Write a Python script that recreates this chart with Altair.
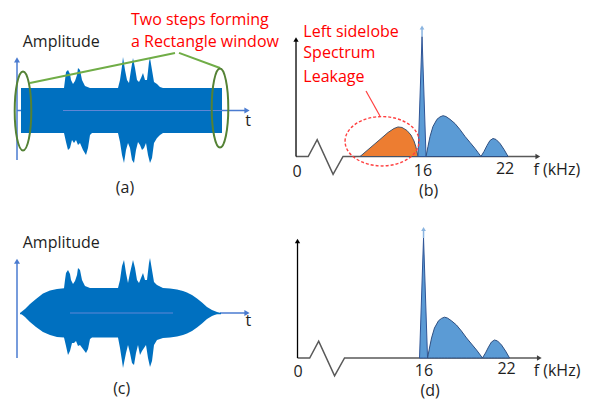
import altair as alt
import pandas as pd

FONT = "Open Sans"
RED = "#ff0000"
INK = "#1e1e1e"
SIG = "#0070c0"
AXBLUE = "#4a7bd0"

# ---------------- (a) signal with rectangular window (time, amplitude envelope) ----------------
a_up_t = [0, 43, 44, 45, 47, 49, 50, 52, 54, 56, 57, 59, 61, 64, 69, 97, 99, 101, 102, 104, 106, 108,
          110, 112, 114, 116, 118, 120, 122, 124, 126, 128, 129, 131, 133, 136, 139, 142, 201]
a_up_amp = [1.0, 1.0, 1.36, 1.71, 1.8, 1.62, 1.36, 1.18, 1.31, 1.58, 1.89, 1.8, 1.36, 1.09, 1.0, 1.0,
            1.36, 1.98, 2.38, 1.8, 1.36, 1.22, 1.8, 2.33, 1.89, 1.36, 1.27, 1.44, 1.67, 1.36, 1.36, 2.16,
            2.33, 1.8, 1.27, 1.18, 1.04, 1.0, 1.0]
a_lo_t = [0, 43, 45, 47, 49, 51, 53, 55, 57, 59, 62, 65, 67, 69, 71, 97, 99, 101, 103, 105, 107, 109,
          111, 113, 115, 117, 119, 121, 123, 125, 127, 129, 131, 133, 136, 139, 142, 201]
a_lo_amp = [-1.0, -1.0, -1.4, -1.76, -1.67, -1.31, -1.44, -1.31, -1.53, -1.44, -1.76, -1.98, -1.67,
            -1.09, -1.0, -1.0, -1.4, -1.98, -2.33, -1.76, -1.44, -1.67, -2.2, -2.33, -1.76, -1.4, -1.53,
            -1.76, -1.67, -1.44, -1.98, -2.33, -2.11, -1.44, -1.22, -1.09, -1.0, -1.0]

# ---------------- (c) signal with tapered window ----------------
c_up_t = [-1, 4, 9, 15, 22, 29, 36, 43, 44, 45, 47, 49, 50, 52, 54, 56, 57, 59, 61, 64, 69, 97, 99, 101,
          103, 105, 107, 109, 112, 114, 116, 118, 120, 122, 124, 126, 128, 129, 131, 133, 136, 142, 149,
          156, 162, 166, 171, 176, 181, 186, 191, 196, 200]
c_up_amp = [0, 0.18, 0.4, 0.62, 0.87, 1.0, 1.07, 1.1, 1.47, 1.78, 1.91, 1.73, 1.47, 1.29, 1.42, 1.69,
            2.0, 1.91, 1.47, 1.2, 1.11, 1.11, 1.47, 2.09, 2.36, 1.78, 1.33, 1.78, 2.36, 2.0, 1.47, 1.33,
            1.56, 1.78, 1.47, 1.47, 2.22, 2.44, 1.91, 1.38, 1.24, 1.11, 1.09, 1.04, 0.98, 0.91, 0.8, 0.64,
            0.47, 0.27, 0.13, 0.04, 0]
c_lo_t = [-1, 4, 9, 15, 22, 29, 36, 43, 45, 47, 49, 51, 53, 55, 57, 59, 62, 65, 67, 69, 71, 97, 99, 101,
          102, 105, 107, 109, 111, 113, 115, 117, 119, 121, 123, 125, 127, 129, 131, 133, 136, 142, 149,
          156, 162, 166, 171, 176, 181, 186, 191, 196, 200]
c_lo_amp = [0, -0.18, -0.4, -0.62, -0.84, -0.98, -1.07, -1.09, -1.47, -1.87, -1.69, -1.33, -1.33, -1.24,
            -1.47, -1.42, -1.6, -1.78, -1.6, -1.16, -1.09, -1.09, -1.56, -2.13, -2.44, -1.78, -1.42, -1.78,
            -2.22, -2.31, -1.78, -1.42, -1.87, -1.69, -1.56, -1.42, -2.0, -2.4, -2.13, -1.42, -1.2, -1.11,
            -1.09, -1.04, -0.98, -0.91, -0.8, -0.64, -0.47, -0.27, -0.13, -0.04, 0]

# ---------------- spectra (kHz, magnitude) ----------------
orange_f = [11.45, 12.17, 12.89, 13.47, 13.90, 14.19, 14.48, 14.84, 15.13, 15.35, 15.49, 15.64]
orange_mag = [0, 0.071, 0.142, 0.2, 0.233, 0.246, 0.242, 0.217, 0.179, 0.129, 0.079, 0]
spike_f = [15.64, 15.93, 16.22]
spike_mag = [0, 1.0, 0]
lobe_f = [16.22, 16.36, 16.51, 16.72, 17.01, 17.23, 17.45, 17.66, 17.95, 18.31, 18.67, 19.04, 19.40,
          19.76, 19.98, 20.19, 20.41, 20.63, 20.84, 21.06, 21.28, 21.57, 21.86, 22.15]
lobe_mag = [0, 0.083, 0.167, 0.25, 0.31, 0.33, 0.34, 0.333, 0.31, 0.275, 0.225, 0.167, 0.117, 0.067,
            0.033, 0, 0.042, 0.092, 0.133, 0.15, 0.142, 0.108, 0.058, 0]
# broken frequency axis (zig-zag break)
brk_f = [6.82, 7.7, 8.35, 9.5, 10.22, 24.3]
brk_mag = [0, 0, 0.14, -0.148, 0, 0]
tick_labels = ["0", "16", "22", "f (kHz)"]
tick_f_b = [6.89, 16, 21.93, 25.67]
tick_mag_b = [-0.171, -0.163, -0.146, -0.154]
tick_f_d = [6.86, 15.96, 21.93, 25.58]
tick_mag_d = [-0.155, -0.146, -0.13, -0.146]

# ---------------- panel scales (data units -> drawing area) ----------------
XS = {"a": ([0, 201], [13, 214]), "c": ([0, 201], [13, 214]),
      "b": ([16, 22], [415, 498]), "d": ([16, 22], [416.5, 499.5])}
YS = {"a": ([-1, 1], [125, 80]), "c": ([-1, 1], [327.5, 282.5]),
      "b": ([0, 1], [148.5, 28.5]), "d": ([0, 1], [350, 230])}


def X(p, f):
    d, r = XS[p]
    return alt.X(f, type="quantitative", axis=None,
                 scale=alt.Scale(domain=d, range=r, nice=False, zero=False))


def Y(p, f):
    d, r = YS[p]
    return alt.Y(f, type="quantitative", axis=None,
                 scale=alt.Scale(domain=d, range=r, nice=False, zero=False))


def area(p, xs, ys, base=0.0, **mk):
    df = pd.DataFrame({"x": xs, "y": ys})
    return alt.Chart(df).mark_area(**mk).encode(x=X(p, "x"), y=Y(p, "y"), y2=alt.datum(base))


def line(p, xs, ys, **mk):
    df = pd.DataFrame({"x": xs, "y": ys, "i": list(range(len(xs)))})
    return alt.Chart(df).mark_line(**mk).encode(x=X(p, "x"), y=Y(p, "y"), order="i:Q")


def seg(p, rows, **mk):
    df = pd.DataFrame(rows, columns=["x1", "y1", "x2", "y2"])
    return alt.Chart(df).mark_rule(**mk).encode(x=X(p, "x1"), x2="x2:Q", y=Y(p, "y1"), y2="y2:Q")


def pts(p, xs, ys, **mk):
    df = pd.DataFrame({"x": xs, "y": ys})
    return alt.Chart(df).mark_point(**mk).encode(x=X(p, "x"), y=Y(p, "y"))


def txt(p, xs, ys, labels, **mk):
    df = pd.DataFrame({"x": xs, "y": ys, "t": labels})
    base = dict(font=FONT, fontSize=16, baseline="alphabetic", color=INK)
    base.update(mk)
    return alt.Chart(df).mark_text(**base).encode(x=X(p, "x"), y=Y(p, "y"), text="t:N")


ELL_TALL = "M0,-1 A0.21,1 0 1,1 0,1 A0.21,1 0 1,1 0,-1"
ELL_WIDE = "M-1,0 A1,0.667 0 1,1 1,0 A1,0.667 0 1,1 -1,0"

layers = []

# ----- panel (a) -----
layers += [
    seg("a", [(-4, 0, 226, 0), (-4, -2.2, -4, 2.25)], color=AXBLUE, strokeWidth=1.5),
    area("a", a_up_t, a_up_amp, base=-0.05, fill=SIG),
    area("a", a_lo_t, a_lo_amp, base=0.0, fill=SIG),
    seg("a", [(42, 0, 201, 0)], color="#5f86d6", strokeWidth=1),
    pts("a", [226], [0], shape="triangle-right", filled=True, size=36, color=AXBLUE, opacity=1),
    pts("a", [-4], [2.25], shape="triangle-up", filled=True, size=36, color=AXBLUE, opacity=1),
    seg("a", [(9, 1.22, 154, 2.56), (158, 2.56, 199, 1.89)], color="#70ad47", strokeWidth=2),
    pts("a", [2, 199], [-0.02, 0.11], shape=ELL_TALL, size=6241, filled=False,
        stroke="#548235", strokeWidth=2, opacity=1),
    txt("a", [1.7], [2.82], ["Amplitude"], align="left"),
    txt("a", [227], [-0.69], ["t"], align="center"),
    txt("a", [104], [-3.67], ["(a)"], align="center"),
    txt("a", [110, 110], [3.8, 2.82], ["Two steps forming", "a Rectangle window"], align="left", color=RED),
]

# ----- panel (c) -----
layers += [
    seg("c", [(199, 0, 226, 0), (-4, -2.0, -4, 2.3)], color=AXBLUE, strokeWidth=1.5),
    area("c", c_up_t, c_up_amp, base=-0.05, fill=SIG),
    area("c", c_lo_t, c_lo_amp, base=0.0, fill=SIG),
    seg("c", [(49, 0, 152, 0)], color="#5f86d6", strokeWidth=1),
    pts("c", [226], [0], shape="triangle-right", filled=True, size=36, color=AXBLUE, opacity=1),
    pts("c", [-4], [2.3], shape="triangle-up", filled=True, size=36, color=AXBLUE, opacity=1),
    txt("c", [1.7], [2.89], ["Amplitude"], align="left"),
    txt("c", [227.3], [-0.58], ["t"], align="center"),
    txt("c", [100.7], [-3.62], ["(c)"], align="center"),
]


def spectrum(p, with_leak, tf, tm, lab_xy):
    out = [
        line(p, brk_f, brk_mag, color="#595959", strokeWidth=1.5),
        pts(p, [24.3], [0], shape="triangle-right", filled=True, size=30, color="#404040", opacity=1),
        seg(p, [(6.82, 0, 6.82, 0.96)], color="#000000", strokeWidth=1.3),
        pts(p, [6.82], [0.975], shape="triangle-up", filled=True, size=28, color="#000000", opacity=1),
    ]
    if with_leak:
        out.append(area(p, orange_f, orange_mag, fill="#ed7d31", stroke="#44546a", strokeWidth=1))
    out += [
        area(p, spike_f, spike_mag, fill="#5b9bd5", stroke="#2f5597", strokeWidth=1),
        area(p, lobe_f, lobe_mag, fill="#5b9bd5", stroke="#2f4f80", strokeWidth=1),
        seg(p, [(15.93, 1.0, 15.93, 1.07)], color="#8ab4e0", strokeWidth=1.5),
        pts(p, [15.93], [1.075], shape="triangle-up", filled=True, size=22, color="#8ab4e0", opacity=1),
        txt(p, tf, tm, tick_labels, align="center"),
        txt(p, [lab_xy[0]], [lab_xy[1]], [lab_xy[2]], align="center"),
    ]
    return out


layers += spectrum("b", True, tick_f_b, tick_mag_b, (16.4, -0.325, "(b)"))
layers += [
    pts("b", [13.04], [0.127], shape=ELL_WIDE, size=5476, filled=False, stroke="#ff4040",
        strokeWidth=1.4, strokeDash=[3, 2], opacity=1),
    seg("b", [(11.88, 0.546, 12.89, 0.3375)], color="#ff4040", strokeWidth=1.2),
    txt("b", [7.35, 7.35, 7.35], [1.0, 0.818, 0.623], ["Left sidelobe", "Spectrum", "Leakage"],
        align="left", color=RED),
]
layers += spectrum("d", False, tick_f_d, tick_mag_d, (16.4, -0.3125, "(d)"))

chart = (
    alt.layer(*layers)
    .resolve_scale(x="independent", y="independent")
    .properties(width=576, height=391, padding=0, autosize="none", background="white")
    .configure_view(stroke=None)
)

chart.save("out.html", embed_options={"renderer": "svg", "actions": False})
